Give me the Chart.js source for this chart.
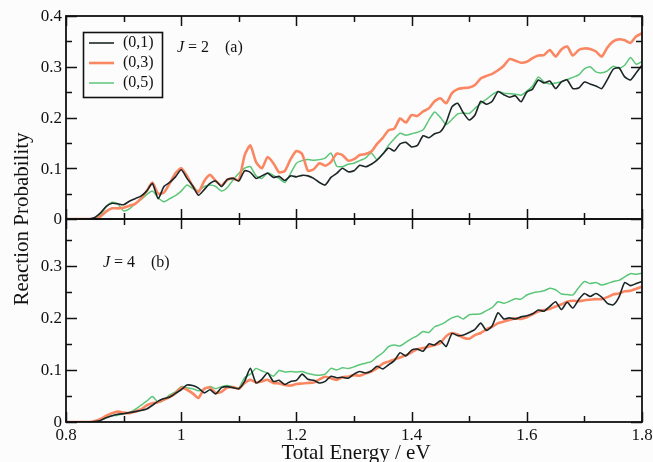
<!DOCTYPE html>
<html><head><meta charset="utf-8">
<script src="https://cdn.jsdelivr.net/npm/chart.js@4.4.1/dist/chart.umd.min.js"></script>
<style>
html,body{margin:0;padding:0;background:#fcfcfd;}
#wrap{position:relative;width:653px;height:462px;overflow:hidden;background:#fcfcfd;}
canvas{position:absolute;left:0;top:0;}
</style></head><body>
<div id="wrap"><canvas id="panelA" width="653" height="462"></canvas><canvas id="panelB" width="653" height="462"></canvas></div>
<script>
// Total energy grid (eV)
const energy = [0.80,0.81,0.82,0.83,0.84,0.85,0.86,0.87,0.88,0.89,
  0.90,0.91,0.92,0.93,0.94,0.95,0.96,0.97,0.98,0.99,
  1.00,1.01,1.02,1.03,1.04,1.05,1.06,1.07,1.08,1.09,
  1.10,1.11,1.12,1.13,1.14,1.15,1.16,1.17,1.18,1.19,
  1.20,1.21,1.22,1.23,1.24,1.25,1.26,1.27,1.28,1.29,
  1.30,1.31,1.32,1.33,1.34,1.35,1.36,1.37,1.38,1.39,
  1.40,1.41,1.42,1.43,1.44,1.45,1.46,1.47,1.48,1.49,
  1.50,1.51,1.52,1.53,1.54,1.55,1.56,1.57,1.58,1.59,
  1.60,1.61,1.62,1.63,1.64,1.65,1.66,1.67,1.68,1.69,
  1.70,1.71,1.72,1.73,1.74,1.75,1.76,1.77,1.78,1.79,1.80];

const seriesNames = ['(0,1)', '(0,3)', '(0,5)'];

// J = 2 reaction probabilities
const j2_v01 = [0,0,0,0,0,0.003,0.012,0.025,0.031,0.030,
  0.028,0.035,0.040,0.045,0.055,0.070,0.040,0.064,0.072,0.083,
  0.097,0.080,0.065,0.047,0.058,0.070,0.075,0.064,0.078,0.080,
  0.075,0.095,0.092,0.080,0.085,0.090,0.082,0.084,0.076,0.085,
  0.083,0.086,0.085,0.080,0.072,0.067,0.082,0.090,0.100,0.093,
  0.095,0.106,0.103,0.108,0.116,0.128,0.140,0.134,0.148,0.151,
  0.142,0.145,0.164,0.160,0.168,0.172,0.190,0.221,0.228,0.209,
  0.195,0.205,0.232,0.226,0.232,0.251,0.245,0.240,0.243,0.231,
  0.250,0.256,0.274,0.268,0.272,0.257,0.270,0.274,0.257,0.258,
  0.270,0.266,0.262,0.257,0.275,0.295,0.298,0.280,0.274,0.288,0.303];
const j2_v03 = [0,0,0,0,0,0,0.005,0.015,0.021,0.021,
  0.022,0.026,0.030,0.040,0.055,0.072,0.050,0.052,0.070,0.090,
  0.100,0.085,0.065,0.053,0.075,0.087,0.075,0.066,0.077,0.080,
  0.076,0.125,0.145,0.112,0.100,0.122,0.110,0.092,0.095,0.118,
  0.134,0.128,0.095,0.098,0.110,0.105,0.112,0.129,0.126,0.115,
  0.118,0.126,0.128,0.133,0.148,0.160,0.175,0.178,0.198,0.190,
  0.205,0.203,0.212,0.218,0.232,0.238,0.228,0.248,0.256,0.258,
  0.259,0.264,0.277,0.282,0.286,0.293,0.302,0.315,0.312,0.308,
  0.310,0.317,0.322,0.323,0.333,0.320,0.334,0.340,0.322,0.333,
  0.336,0.335,0.330,0.320,0.338,0.350,0.354,0.352,0.347,0.360,0.366];
const j2_v05 = [0,0,0,0,0,0,0.008,0.025,0.033,0.030,
  0.016,0.020,0.030,0.038,0.048,0.055,0.042,0.034,0.040,0.046,
  0.055,0.067,0.060,0.056,0.064,0.067,0.064,0.055,0.062,0.077,
  0.090,0.100,0.103,0.085,0.080,0.091,0.086,0.080,0.072,0.090,
  0.110,0.115,0.117,0.116,0.117,0.120,0.130,0.104,0.103,0.108,
  0.110,0.115,0.120,0.130,0.117,0.128,0.145,0.158,0.169,0.165,
  0.168,0.171,0.176,0.195,0.211,0.200,0.186,0.196,0.207,0.209,
  0.208,0.218,0.228,0.236,0.245,0.251,0.248,0.247,0.246,0.244,
  0.252,0.262,0.280,0.270,0.266,0.268,0.270,0.275,0.279,0.284,
  0.296,0.300,0.290,0.288,0.292,0.301,0.297,0.303,0.318,0.305,0.310];

// J = 4 reaction probabilities
const j4_v01 = [0,0,0,0,0,0.001,0.003,0.008,0.012,0.015,
  0.016,0.018,0.020,0.022,0.025,0.032,0.040,0.045,0.048,0.055,
  0.062,0.071,0.070,0.065,0.056,0.062,0.054,0.066,0.068,0.066,
  0.064,0.078,0.103,0.075,0.082,0.094,0.078,0.080,0.072,0.078,
  0.080,0.092,0.082,0.080,0.075,0.078,0.088,0.085,0.086,0.084,
  0.092,0.097,0.094,0.098,0.107,0.102,0.110,0.118,0.133,0.127,
  0.138,0.140,0.136,0.150,0.148,0.156,0.145,0.170,0.166,0.167,
  0.172,0.178,0.190,0.176,0.185,0.210,0.198,0.200,0.198,0.202,
  0.204,0.208,0.215,0.213,0.222,0.231,0.216,0.230,0.219,0.235,
  0.247,0.241,0.247,0.240,0.228,0.225,0.240,0.268,0.262,0.266,0.270];
const j4_v03 = [0,0,0,0,0,0.002,0.006,0.012,0.017,0.020,
  0.018,0.017,0.020,0.024,0.032,0.036,0.038,0.043,0.048,0.055,
  0.066,0.062,0.055,0.046,0.064,0.066,0.056,0.058,0.066,0.067,
  0.064,0.075,0.081,0.076,0.078,0.081,0.075,0.074,0.071,0.070,
  0.073,0.074,0.075,0.076,0.082,0.087,0.084,0.081,0.086,0.087,
  0.090,0.089,0.093,0.097,0.103,0.112,0.116,0.120,0.124,0.128,
  0.134,0.140,0.142,0.145,0.148,0.152,0.165,0.171,0.168,0.162,
  0.160,0.167,0.171,0.178,0.183,0.190,0.193,0.196,0.199,0.198,
  0.201,0.207,0.212,0.215,0.217,0.222,0.226,0.231,0.233,0.232,
  0.234,0.235,0.236,0.236,0.240,0.245,0.247,0.251,0.252,0.256,0.260];
const j4_v05 = [0,0,0,0,0,0.001,0.004,0.010,0.012,0.013,
  0.016,0.018,0.024,0.032,0.040,0.049,0.038,0.042,0.052,0.058,
  0.068,0.066,0.064,0.060,0.063,0.068,0.064,0.068,0.070,0.067,
  0.065,0.085,0.092,0.103,0.098,0.094,0.088,0.099,0.096,0.097,
  0.096,0.097,0.093,0.091,0.090,0.092,0.103,0.100,0.104,0.103,
  0.106,0.110,0.113,0.116,0.125,0.133,0.145,0.148,0.146,0.153,
  0.160,0.166,0.174,0.172,0.183,0.187,0.193,0.200,0.203,0.198,
  0.206,0.207,0.208,0.214,0.220,0.231,0.228,0.232,0.237,0.236,
  0.244,0.248,0.250,0.252,0.257,0.254,0.246,0.245,0.244,0.258,
  0.270,0.266,0.268,0.263,0.266,0.270,0.272,0.279,0.285,0.284,0.286];

const xTickLabels = ['0.8', '1', '1.2', '1.4', '1.6', '1.8'];
const yTickLabelsA = ['0', '0.1', '0.2', '0.3', '0.4'];
const yTickLabelsB = ['0', '0.1', '0.2', '0.3'];

const COLORS = ['#1c2626', '#fa8762', '#5cc678'];
const WIDTHS = [1.6, 2.6, 1.5];
const SERIF = '"Liberation Serif", "Times New Roman", serif';

function pts(vals) { return vals.map((v, i) => ({ x: energy[i], y: v })); }

function datasets(series) {
  return series.map((vals, i) => ({
    label: seriesNames[i],
    data: pts(vals),
    borderColor: COLORS[i],
    borderWidth: WIDTHS[i],
    pointRadius: 0,
    tension: 0.2,
    fill: false
  }));
}

// frame, inward ticks on all four sides, tick labels and annotations
const framePlugin = {
  id: 'frame',
  afterDraw(chart, args, opts) {
    const ctx = chart.ctx;
    const a = chart.chartArea;
    const xs = chart.scales.x, ys = chart.scales.y;
    ctx.save();
    ctx.strokeStyle = '#111';
    ctx.lineWidth = 1.8;
    ctx.strokeRect(a.left, a.top, a.right - a.left, a.bottom - a.top);
    ctx.lineWidth = 1.5;
    ctx.beginPath();
    for (let k = 0; k <= 10; k++) {
      const v = 0.8 + k * 0.1;
      const px = Math.round(xs.getPixelForValue(v)) + 0.5;
      const len = k % 2 === 0 ? 10 : 6;
      ctx.moveTo(px, a.bottom); ctx.lineTo(px, a.bottom - len);
      ctx.moveTo(px, a.top); ctx.lineTo(px, a.top + len);
    }
    for (let k = 0; k * 0.05 <= opts.yMax + 1e-9; k++) {
      const v = k * 0.05;
      const py = Math.round(ys.getPixelForValue(v)) + 0.5;
      const len = k % 2 === 0 ? 11 : 6;
      ctx.moveTo(a.left, py); ctx.lineTo(a.left + len, py);
      ctx.moveTo(a.right, py); ctx.lineTo(a.right - len, py);
    }
    ctx.stroke();

    ctx.fillStyle = '#111';
    ctx.font = '17px ' + SERIF;
    ctx.textAlign = 'right';
    ctx.textBaseline = 'middle';
    opts.yLabels.forEach((t) => {
      ctx.fillText(t, a.left - 4, ys.getPixelForValue(parseFloat(t)) + 1);
    });

    if (opts.xLabels) {
      ctx.textAlign = 'center';
      ctx.textBaseline = 'top';
      xTickLabels.forEach((t) => {
        ctx.fillText(t, xs.getPixelForValue(parseFloat(t)), a.bottom + 5);
      });
      ctx.font = '21px ' + SERIF;
      ctx.fillText('Total Energy / eV', (a.left + a.right) / 2 + 2, a.bottom + 21);
      ctx.save();
      ctx.translate(22, 219);
      ctx.rotate(-Math.PI / 2);
      ctx.textBaseline = 'middle';
      ctx.fillText('Reaction Probability', 0, 0);
      ctx.restore();
    }

    // J label and panel tag
    ctx.textAlign = 'left';
    ctx.textBaseline = 'middle';
    ctx.font = 'italic 16px ' + SERIF;
    ctx.fillText('J', opts.jx, opts.jy);
    ctx.font = '16px ' + SERIF;
    ctx.fillText('= ' + opts.jval, opts.jx + 11, opts.jy);
    ctx.fillText(opts.tag, opts.jx + 48, opts.jy);

    if (opts.legend) {
      ctx.lineWidth = 1.6;
      ctx.strokeStyle = '#111';
      ctx.strokeRect(83.5, 32.5, 79, 65);
      seriesNames.forEach((n, i) => {
        const y = 43 + i * 20;
        ctx.strokeStyle = COLORS[i];
        ctx.lineWidth = WIDTHS[i];
        ctx.beginPath(); ctx.moveTo(89, y); ctx.lineTo(114, y); ctx.stroke();
        ctx.fillStyle = '#111';
        ctx.font = '16px ' + SERIF;
        ctx.fillText(n, 123, y);
      });
    }
    ctx.restore();
  }
};

function makePanel(id, series, yMax, pad, frameOpts) {
  return new Chart(document.getElementById(id), {
    type: 'line',
    data: { datasets: datasets(series) },
    options: {
      responsive: false,
      devicePixelRatio: 1,
      animation: false,
      layout: { padding: pad },
      scales: {
        x: { type: 'linear', min: 0.8, max: 1.8, display: false },
        y: { type: 'linear', min: 0, max: yMax, display: false }
      },
      plugins: { legend: { display: false }, tooltip: { enabled: false }, frame: frameOpts }
    },
    plugins: [framePlugin]
  });
}

makePanel('panelA', [j2_v01, j2_v03, j2_v05], 0.4,
  { left: 66, right: 11, top: 16, bottom: 243 },
  { yMax: 0.4, yLabels: yTickLabelsA, xLabels: false, legend: true, jx: 177, jy: 48, jval: '2', tag: '(a)' });
makePanel('panelB', [j4_v01, j4_v03, j4_v05], 0.39,
  { left: 66, right: 11, top: 219, bottom: 40 },
  { yMax: 0.39, yLabels: yTickLabelsB, xLabels: true, legend: false, jx: 103, jy: 263, jval: '4', tag: '(b)' });
</script></body></html>
